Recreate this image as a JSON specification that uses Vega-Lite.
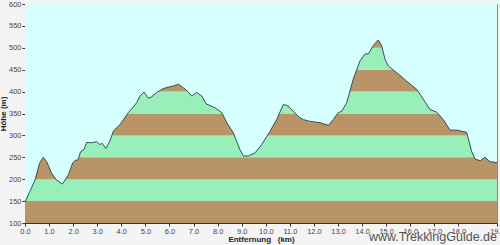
{
  "$schema": "https://vega.github.io/schema/vega-lite/v6.json",
  "autosize": {"type": "none"},
  "width": 472,
  "height": 219,
  "padding": {"left": 25, "top": 4, "right": 3, "bottom": 22},
  "background": "#f4f4f4",
  "config": {
    "view": {"stroke": "#8a8a8a", "strokeWidth": 1},
    "font": "Liberation Sans",
    "axis": {
      "domainColor": "#333333",
      "tickColor": "#333333",
      "tickSize": 3,
      "labelColor": "#444444",
      "labelFontSize": 7.5,
      "labelPadding": 1,
      "labelOverlap": false,
      "labelFlush": false,
      "labelFont": "Liberation Sans",
      "titleFont": "Liberation Sans",
      "titleFontSize": 8,
      "titleFontWeight": "bold",
      "titleColor": "#222222",
      "grid": false
    }
  },
  "title": {
    "text": "www.TrekkingGuide.de",
    "orient": "bottom",
    "anchor": "end",
    "frame": "group",
    "fontSize": 12.5,
    "fontWeight": "normal",
    "color": "#555555",
    "font": "Liberation Sans",
    "offset": -13
  },
  "datasets": {
    "bands": [
      {"lo": 100, "hi": 150, "kind": "brown"},
      {"lo": 150, "hi": 200, "kind": "green"},
      {"lo": 200, "hi": 250, "kind": "brown"},
      {"lo": 250, "hi": 300, "kind": "green"},
      {"lo": 300, "hi": 350, "kind": "brown"},
      {"lo": 350, "hi": 400, "kind": "green"},
      {"lo": 400, "hi": 450, "kind": "brown"},
      {"lo": 450, "hi": 500, "kind": "green"},
      {"lo": 500, "hi": 550, "kind": "brown"}
    ],
    "profile": [
      {"km": 0.0, "h": 148}, {"km": 0.2, "h": 172}, {"km": 0.42, "h": 198}, {"km": 0.6, "h": 236},
      {"km": 0.76, "h": 250}, {"km": 0.9, "h": 240}, {"km": 1.1, "h": 214}, {"km": 1.31, "h": 198},
      {"km": 1.56, "h": 189}, {"km": 1.8, "h": 210}, {"km": 1.98, "h": 237}, {"km": 2.08, "h": 243},
      {"km": 2.2, "h": 244}, {"km": 2.31, "h": 263}, {"km": 2.45, "h": 268}, {"km": 2.56, "h": 284},
      {"km": 2.77, "h": 283}, {"km": 2.98, "h": 286}, {"km": 3.1, "h": 279}, {"km": 3.2, "h": 282},
      {"km": 3.36, "h": 270}, {"km": 3.53, "h": 288}, {"km": 3.67, "h": 310}, {"km": 3.95, "h": 325},
      {"km": 4.29, "h": 352}, {"km": 4.5, "h": 365}, {"km": 4.64, "h": 375}, {"km": 4.78, "h": 390},
      {"km": 4.94, "h": 399}, {"km": 5.12, "h": 385}, {"km": 5.26, "h": 388}, {"km": 5.47, "h": 398},
      {"km": 5.74, "h": 407}, {"km": 6.02, "h": 411}, {"km": 6.16, "h": 413}, {"km": 6.37, "h": 417},
      {"km": 6.57, "h": 409}, {"km": 6.71, "h": 403}, {"km": 6.92, "h": 390}, {"km": 7.13, "h": 398},
      {"km": 7.34, "h": 390}, {"km": 7.52, "h": 372}, {"km": 7.89, "h": 363}, {"km": 8.17, "h": 352},
      {"km": 8.38, "h": 329}, {"km": 8.65, "h": 306}, {"km": 8.79, "h": 286}, {"km": 8.93, "h": 267},
      {"km": 9.07, "h": 253}, {"km": 9.27, "h": 253}, {"km": 9.55, "h": 260}, {"km": 9.83, "h": 279},
      {"km": 10.17, "h": 309}, {"km": 10.45, "h": 336}, {"km": 10.73, "h": 371}, {"km": 10.93, "h": 367},
      {"km": 11.14, "h": 355}, {"km": 11.42, "h": 340}, {"km": 11.56, "h": 336}, {"km": 11.84, "h": 332},
      {"km": 12.25, "h": 329}, {"km": 12.6, "h": 323}, {"km": 12.8, "h": 336}, {"km": 13.01, "h": 352},
      {"km": 13.15, "h": 355}, {"km": 13.36, "h": 375}, {"km": 13.63, "h": 428}, {"km": 13.91, "h": 470},
      {"km": 14.12, "h": 486}, {"km": 14.26, "h": 486}, {"km": 14.46, "h": 505}, {"km": 14.67, "h": 518},
      {"km": 14.81, "h": 505}, {"km": 14.95, "h": 474}, {"km": 15.09, "h": 458}, {"km": 15.44, "h": 443},
      {"km": 15.85, "h": 424}, {"km": 16.27, "h": 405}, {"km": 16.82, "h": 359}, {"km": 17.1, "h": 353},
      {"km": 17.37, "h": 336}, {"km": 17.65, "h": 312}, {"km": 17.93, "h": 312}, {"km": 18.34, "h": 307},
      {"km": 18.55, "h": 263}, {"km": 18.69, "h": 246}, {"km": 18.9, "h": 242}, {"km": 19.1, "h": 250},
      {"km": 19.31, "h": 240}, {"km": 19.6, "h": 238}
    ]
  },
  "layer": [
    {
      "data": {"name": "bands"},
      "mark": {"type": "rect"},
      "encoding": {
        "y": {"field": "lo", "type": "quantitative", "scale": {"domain": [100, 600], "nice": false, "zero": false},
          "axis": {"values": [100,150,200,250,300,350,400,450,500,550,600], "title": "Höhe (m)", "titlePadding": 1, "labelOverlap": false}},
        "y2": {"field": "hi"},
        "color": {"field": "kind", "type": "nominal", "scale": {"domain": ["brown", "green"], "range": ["#b89467", "#98efba"]}, "legend": null}
      }
    },
    {
      "data": {"name": "profile"},
      "mark": {"type": "area", "color": "#d8ffff", "opacity": 1},
      "encoding": {
        "x": {"field": "km", "type": "quantitative", "scale": {"domain": [0, 19.6], "nice": false, "zero": false},
          "axis": {"values": [0,1,2,3,4,5,6,7,8,9,10,11,12,13,14,15,16,17,18,19.6], "format": ".1f", "title": "Entfernung\u00a0\u00a0\u00a0(km)", "titlePadding": 1, "labelOverlap": false}},
        "y": {"field": "h", "type": "quantitative",
          "axis": {"values": [100,150,200,250,300,350,400,450,500,550,600], "title": "Höhe (m)", "titlePadding": 1, "labelOverlap": false}},
        "y2": {"datum": 600}
      }
    },
    {
      "data": {"name": "profile"},
      "mark": {"type": "line", "color": "#35504a", "strokeWidth": 1},
      "encoding": {
        "x": {"field": "km", "type": "quantitative",
          "axis": {"values": [0,1,2,3,4,5,6,7,8,9,10,11,12,13,14,15,16,17,18,19.6], "format": ".1f", "title": "Entfernung\u00a0\u00a0\u00a0(km)", "titlePadding": 1, "labelOverlap": false}},
        "y": {"field": "h", "type": "quantitative",
          "axis": {"values": [100,150,200,250,300,350,400,450,500,550,600], "title": "Höhe (m)", "titlePadding": 1, "labelOverlap": false}}
      }
    }
  ]
}
